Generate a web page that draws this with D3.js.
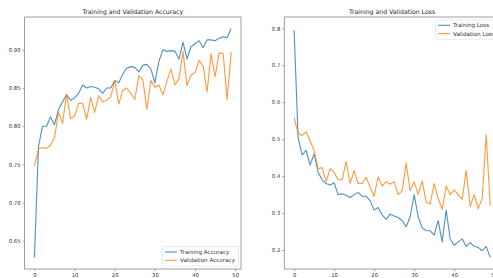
<!doctype html>
<html>

<head>
  <title>Training and Validation</title>
  <script src="https://d3js.org/d3.v7.min.js"></script>
  <style>
    body { margin: 0; background: #fff; }
    svg { display: block; font-family: "DejaVu Sans", sans-serif; }
  </style>
</head>

<body>
  <svg width="493" height="278"></svg>

  <script>
    // epochs 0..49
    var epochs = d3.range(0, 50);

    var trainAcc = [0.628, 0.773, 0.800, 0.800, 0.812, 0.802, 0.822, 0.832, 0.841, 0.834,
      0.837, 0.843, 0.854, 0.850, 0.852, 0.851, 0.849, 0.843, 0.850, 0.850,
      0.860, 0.857, 0.868, 0.876, 0.878, 0.877, 0.871, 0.880, 0.881, 0.875,
      0.857, 0.885, 0.900, 0.898, 0.899, 0.898, 0.888, 0.910, 0.888, 0.904,
      0.908, 0.912, 0.903, 0.913, 0.913, 0.912, 0.915, 0.917, 0.916, 0.928];

    var valAcc = [0.748, 0.770, 0.772, 0.771, 0.775, 0.785, 0.818, 0.804, 0.842, 0.810,
      0.813, 0.830, 0.830, 0.809, 0.838, 0.818, 0.840, 0.832, 0.834, 0.838,
      0.860, 0.829, 0.847, 0.850, 0.843, 0.835, 0.866, 0.861, 0.822, 0.860,
      0.851, 0.854, 0.841, 0.859, 0.875, 0.854, 0.862, 0.898, 0.853, 0.867,
      0.870, 0.886, 0.879, 0.845, 0.895, 0.865, 0.896, 0.895, 0.835, 0.897];

    var trainLoss = [0.795, 0.505, 0.457, 0.470, 0.430, 0.460, 0.410, 0.390, 0.380, 0.376,
      0.382, 0.350, 0.352, 0.348, 0.342, 0.350, 0.356, 0.345, 0.346, 0.333,
      0.308, 0.315, 0.295, 0.283, 0.297, 0.292, 0.288, 0.280, 0.263, 0.290,
      0.350, 0.290, 0.260, 0.253, 0.252, 0.240, 0.280, 0.222, 0.308, 0.230,
      0.213, 0.222, 0.230, 0.210, 0.220, 0.210, 0.207, 0.198, 0.210, 0.180];

    var valLoss = [0.558, 0.516, 0.510, 0.520, 0.495, 0.470, 0.420, 0.423, 0.385, 0.420,
      0.410, 0.390, 0.390, 0.440, 0.380, 0.415, 0.380, 0.380, 0.397, 0.370,
      0.345, 0.398, 0.373, 0.385, 0.378, 0.385, 0.350, 0.360, 0.435, 0.360,
      0.385, 0.350, 0.387, 0.330, 0.325, 0.380, 0.340, 0.310, 0.373, 0.350,
      0.362, 0.350, 0.337, 0.415, 0.318, 0.350, 0.312, 0.340, 0.512, 0.320];

    var xTicks = [0, 10, 20, 30, 40, 50];
    var accTicks = [0.65, 0.70, 0.75, 0.80, 0.85, 0.90];
    var lossTicks = [0.2, 0.3, 0.4, 0.5, 0.6, 0.7, 0.8];

    var blue = "#1f77b4", orange = "#ff7f0e";
    var svg = d3.select("svg");

    function panel(cfg) {
      var x = d3.scaleLinear().domain([-2.45, 51.45]).range(cfg.xr);
      var y = d3.scaleLinear().domain(cfg.yd).range([269, 17]);
      var g = svg.append("g");

      g.append("rect")
        .attr("x", cfg.xr[0]).attr("y", 17)
        .attr("width", cfg.xr[1] - cfg.xr[0]).attr("height", 252)
        .attr("fill", "none").attr("stroke", "#888").attr("stroke-width", 0.8);

      var xa = g.append("g").attr("transform", "translate(0,269)")
        .call(d3.axisBottom(x).tickValues(xTicks).tickSize(2).tickPadding(2.5));
      var ya = g.append("g").attr("transform", "translate(" + cfg.xr[0] + ",0)")
        .call(d3.axisLeft(y).tickValues(cfg.ticks).tickFormat(d3.format(cfg.fmt)).tickSize(2).tickPadding(2));
      [xa, ya].forEach(function(a) {
        a.select(".domain").remove();
        a.selectAll("line").attr("stroke", "#666").attr("stroke-width", 0.6);
        a.selectAll("text").attr("font-size", "5.3px").attr("fill", "#333")
          .attr("font-family", "DejaVu Sans, sans-serif");
      });

      var line = d3.line().x(function(d, i) { return x(epochs[i]); }).y(function(d) { return y(d); });
      cfg.series.forEach(function(s) {
        g.append("path").datum(s.values)
          .attr("d", line).attr("fill", "none")
          .attr("stroke", s.color).attr("stroke-width", 1.1).attr("stroke-opacity", 0.8)
          .attr("stroke-linejoin", "round");
      });

      g.append("text")
        .attr("x", (cfg.xr[0] + cfg.xr[1]) / 2).attr("y", 14)
        .attr("text-anchor", "middle").attr("font-size", "6.2px").attr("fill", "#222")
        .text(cfg.title);

      // legend
      var lg = g.append("g").attr("transform", "translate(" + cfg.leg[0] + "," + cfg.leg[1] + ")");
      lg.append("rect").attr("width", cfg.leg[2]).attr("height", 19.5).attr("rx", 1.5)
        .attr("fill", "#fff").attr("fill-opacity", 0.8).attr("stroke", "#ddd").attr("stroke-width", 0.6);
      cfg.series.forEach(function(s, i) {
        var yy = 5.5 + i * 8.3;
        lg.append("line").attr("x1", 2.5).attr("x2", 14.5).attr("y1", yy).attr("y2", yy)
          .attr("stroke", s.color).attr("stroke-width", 1.1).attr("stroke-opacity", 0.8);
        lg.append("text").attr("x", 17.5).attr("y", yy + 2).attr("font-size", "5.6px")
          .attr("fill", "#333").text(s.name);
      });
    }

    panel({
      xr: [24.6, 241], yd: [0.613, 0.943], ticks: accTicks, fmt: ".2f",
      title: "Training and Validation Accuracy",
      leg: [162.5, 246.5, 76],
      series: [{ name: "Training Accuracy", values: trainAcc, color: blue },
        { name: "Validation Accuracy", values: valAcc, color: orange }]
    });

    panel({
      xr: [284.3, 500], yd: [0.1486, 0.8306], ticks: lossTicks, fmt: ".1f",
      title: "Training and Validation Loss",
      leg: [435.5, 19.8, 62],
      series: [{ name: "Training Loss", values: trainLoss, color: blue },
        { name: "Validation Loss", values: valLoss, color: orange }]
    });
  </script>

</body>

</html>
